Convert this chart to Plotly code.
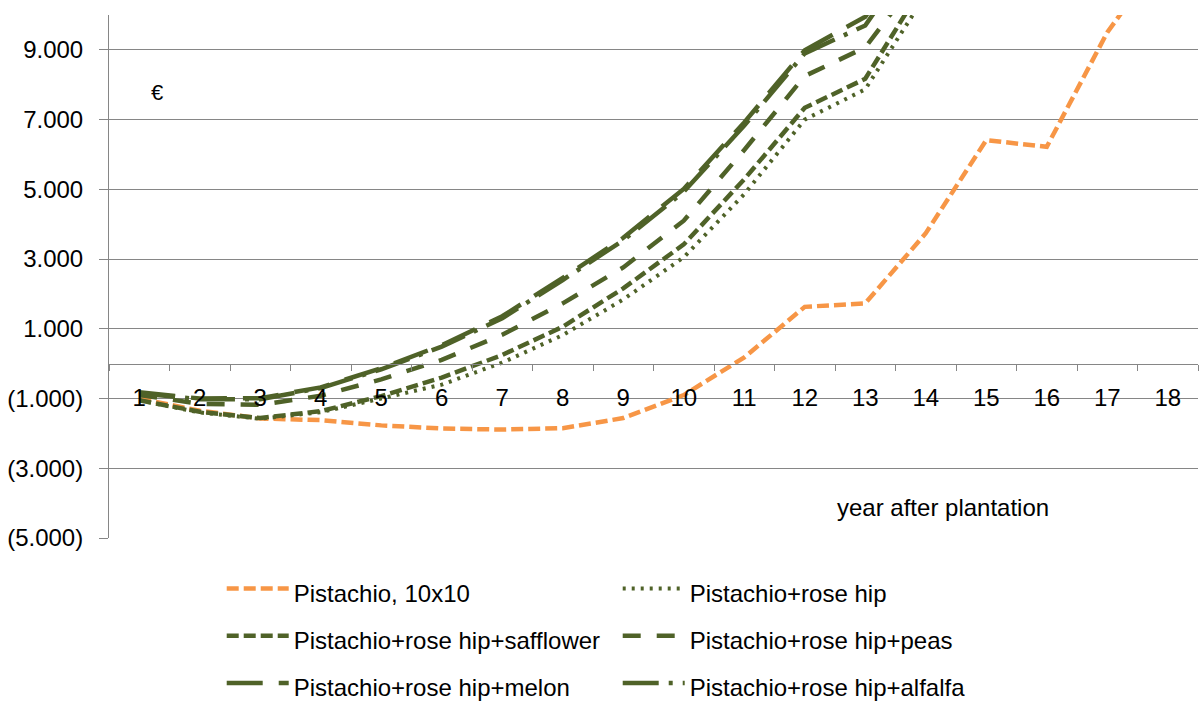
import plotly.graph_objects as go

# Years after plantation (category axis)
years = [str(i) for i in range(1, 19)]

# Cumulative result per hectare, EUR
pistachio_10x10 = [-1000, -1350, -1570, -1620, -1770, -1860, -1890, -1850, -1560,
                   -900, 180, 1630, 1730, 3740, 6410, 6220, 9500, 11900]
rose_hip = [-1050, -1400, -1580, -1390, -1000, -600, 30, 820, 1840,
            3050, 4860, 7000, 7870, 10580]
rose_hip_safflower = [-1050, -1380, -1560, -1360, -930, -400, 250, 1060, 2160,
                      3420, 5290, 7340, 8170, 10970]
rose_hip_peas = [-900, -1150, -1180, -920, -450, 110, 830, 1730, 2760,
                 4100, 6130, 8250, 9070, 11350]
rose_hip_melon = [-820, -1000, -990, -680, -130, 530, 1360, 2460, 3610,
                  5010, 6920, 8990, 9950, 12500]
rose_hip_alfalfa = [-850, -1020, -1020, -700, -160, 490, 1300, 2400, 3540,
                    4930, 6830, 8900, 9700, 12200]

series_names = [
    "Pistachio, 10x10",
    "Pistachio+rose hip",
    "Pistachio+rose hip+safflower",
    "Pistachio+rose hip+peas",
    "Pistachio+rose hip+melon",
    "Pistachio+rose hip+alfalfa",
]
series_values = [pistachio_10x10, rose_hip, rose_hip_safflower,
                 rose_hip_peas, rose_hip_melon, rose_hip_alfalfa]

y_tick_values = [-5000, -3000, -1000, 1000, 3000, 5000, 7000, 9000]

ORANGE = "#F79646"
GREEN = "#4F6228"
GRID = "#868686"
FONT = "Liberation Sans"

styles = [
    dict(color=ORANGE, width=4.5, dash="12px,5px"),
    dict(color=GREEN, width=4, dash="3px,6px"),
    dict(color=GREEN, width=4.5, dash="12px,5px"),
    dict(color=GREEN, width=4.5, dash="18px,16px"),
    dict(color=GREEN, width=4.5, dash="36px,16px"),
    dict(color=GREEN, width=4.5, dash="36px,10px,4px,10px"),
]


def euro_label(v):
    s = f"{abs(v):,}".replace(",", ".")
    return f"({s})" if v < 0 else s


fig = go.Figure()
for name, vals, st in zip(series_names, series_values, styles):
    fig.add_trace(go.Scatter(
        x=years[:len(vals)],
        y=vals,
        mode="lines",
        name=f'<span style="font-size:24px">{name}</span>',
        line=st,
    ))

fig.update_layout(
    width=1199,
    height=702,
    margin=dict(l=109, r=1, t=15, b=164, autoexpand=False),
    paper_bgcolor="white",
    plot_bgcolor="white",
    font=dict(family=FONT, size=24, color="#000000"),
    showlegend=True,
    legend=dict(
        orientation="h",
        x=0.1035, xanchor="left",
        y=-0.042, yanchor="top",
        itemwidth=62,
        entrywidth=319,
        entrywidthmode="pixels",
        font=dict(family=FONT, size=34, color="#000000"),
        traceorder="normal",
        bgcolor="rgba(0,0,0,0)",
    ),
    xaxis=dict(
        type="category",
        categoryorder="array",
        categoryarray=years,
        range=[-0.5, 17.5],
        anchor="free",
        position=1 / 3,
        showline=True,
        linecolor=GRID,
        linewidth=1,
        showgrid=False,
        zeroline=False,
        ticks="outside",
        tickson="boundaries",
        ticklen=6,
        tickcolor=GRID,
        tickfont=dict(family=FONT, size=24, color="#000000"),
        ticklabelstandoff=13,
    ),
    yaxis=dict(
        range=[-5000, 10000],
        tickvals=y_tick_values,
        ticktext=[euro_label(v) for v in y_tick_values],
        showline=True,
        linecolor=GRID,
        linewidth=1,
        showgrid=True,
        gridcolor=GRID,
        gridwidth=1,
        zeroline=False,
        ticks="outside",
        ticklen=9,
        tickcolor=GRID,
        tickfont=dict(family=FONT, size=24, color="#000000"),
        ticklabelstandoff=11,
    ),
    annotations=[
        dict(text="€", x=0.044, y=0.851, xref="paper", yref="paper",
             xanchor="center", yanchor="middle", showarrow=False,
             font=dict(family=FONT, size=22, color="#000000")),
        dict(text="year after plantation", x=0.766, y=0.0587,
             xref="paper", yref="paper", xanchor="center", yanchor="middle",
             showarrow=False,
             font=dict(family=FONT, size=24, color="#000000")),
    ],
)

fig.write_html("out.html")
